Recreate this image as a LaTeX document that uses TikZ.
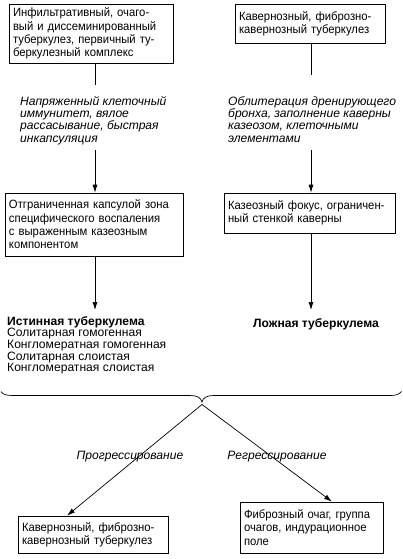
\documentclass[tikz,border=0pt]{standalone}
\usepackage{fontspec}
\setmainfont{Liberation Sans}
\newfontfamily\boxfont{Liberation Sans}[FakeStretch=0.94]
\usetikzlibrary{arrows.meta}
\begin{document}
\begin{tikzpicture}[x=1pt,y=-1pt,
  boxnode/.style={draw, line width=0.7pt, rectangle, inner xsep=4pt, inner ysep=0pt,
    align=left, font=\boxfont\fontsize{12}{13.3}\selectfont},
  note/.style={inner sep=0pt, align=left, anchor=north west, font=\fontsize{12.1}{12.4}\selectfont\itshape},
  conn/.style={line width=0.7pt},
  arr/.style={line width=0.7pt, -{Latex[length=8pt,width=5pt]}}]
\useasboundingbox (0,0) rectangle (403,559);

% top boxes
\node[boxnode, text width=156pt, minimum height=59pt] (b1) at (91,33.5)
  {Инфильтративный, очаго-\\вый и диссеминированный\\туберкулез, первичный ту-\\беркулезный комплекс};
\node[boxnode, text width=142pt, minimum height=39pt] (b3) at (310,23.5)
  {Кавернозный, фиброзно-\\кавернозный туберкулез};

% notes
\node[note] (n1) at (20,96) {Напряженный клеточный\\иммунитет, вялое\\рассасывание, быстрая\\инкапсуляция};
\node[note] (n2) at (228,96) {Облитерация дренирующего\\бронха, заполнение каверны\\казеозом, клеточными\\элементами};

% middle boxes
\node[boxnode, text width=170pt, minimum height=63pt] (b2) at (94,224.5)
  {Отграниченная капсулой зона\\специфического воспаления\\с выраженным казеозным\\компонентом};
\node[boxnode, text width=163pt, minimum height=40pt] (b4) at (309.5,213)
  {Казеозный фокус, ограничен-\\ный стенкой каверны};

% connectors top
\coordinate (c1a) at (95,85);
\coordinate (c1b) at (95,150);
\coordinate (c2a) at (311,75);
\coordinate (c2b) at (311,150);
\draw[conn] (b1.south -| c1a) -- (c1a);
\draw[arr] (c1b) -- (c1b |- b2.north);
\draw[conn] (b3.south -| c2a) -- (c2a);
\draw[arr] (c2b) -- (c2b |- b4.north);

% results
\node[inner sep=0pt, align=left, anchor=north west, font=\fontsize{12.1}{11.7}\selectfont] (t1) at (7,316)
  {\textbf{Истинная туберкулема}\\Солитарная гомогенная\\Конгломератная гомогенная\\Солитарная слоистая\\Конгломератная слоистая};
\node[inner sep=0pt, font=\fontsize{12.1}{13}\selectfont\bfseries] (t2) at (316,324) {Ложная туберкулема};
\coordinate (a1) at (95,310);
\coordinate (a2) at (311,310);
\draw[arr] (b2.south -| a1) -- (a1);
\draw[arr] (b4.south -| a2) -- (a2);

% brace
\coordinate (tip) at (202,402);
\coordinate (fork) at (202,404.5);
\draw[conn] (1,391.5) .. controls (3,394.5) and (6,395.5) .. (13,395.5) -- (190,395.5)
  .. controls (197,395.5) and (201,397.5) .. (tip)
  .. controls (203,397.5) and (207,395.5) .. (214,395.5) -- (390,395.5)
  .. controls (396,395.5) and (399,394.5) .. (401.5,391.5);

% bottom boxes
\node[boxnode, text width=142pt, minimum height=37pt] (b5) at (93,534.5)
  {Кавернозный, фиброзно-\\кавернозный туберкулез};
\node[boxnode, text width=135pt, minimum height=51pt] (b6) at (311.5,527.5)
  {Фиброзный очаг, группа\\очагов, индурационное\\поле};

\draw[arr] (fork) -- ([xshift=-26pt]b5.north);
\draw[arr] (fork) -- ([xshift=20.5pt]b6.north);

\node[font=\fontsize{12.1}{13}\selectfont\itshape, inner sep=0pt] (p1) at (130,457) {Прогрессирование};
\node[font=\fontsize{12.1}{13}\selectfont\itshape, inner sep=0pt] (p2) at (277,457) {Регрессирование};
\end{tikzpicture}
\end{document}
